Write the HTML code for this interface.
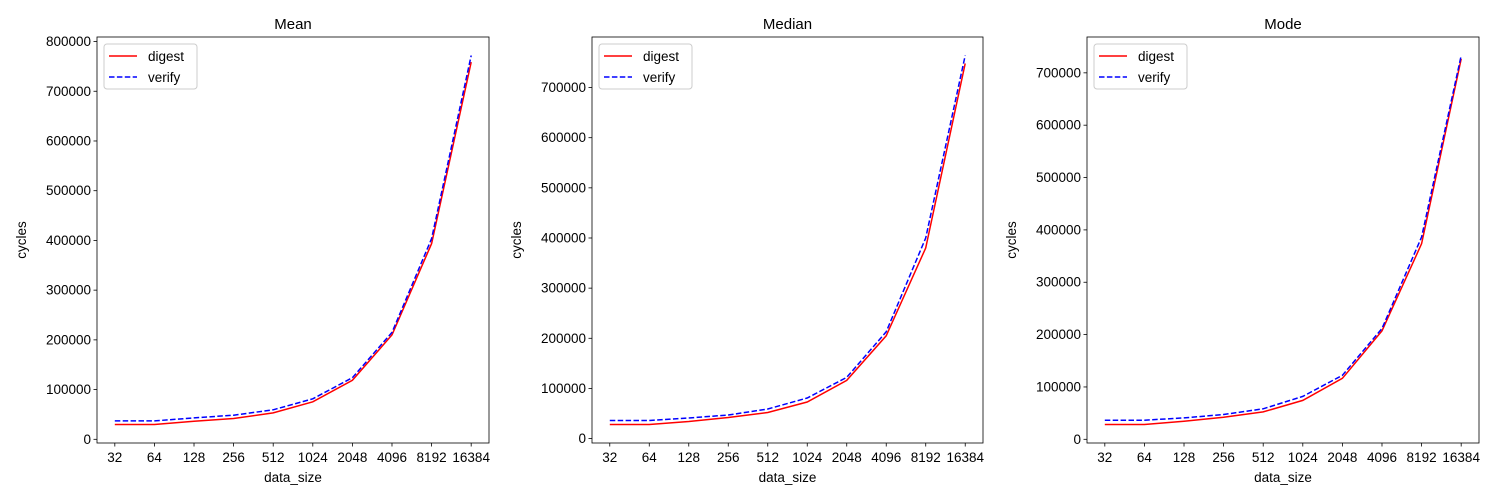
<!DOCTYPE html>
<html><head><meta charset="utf-8"><style>
body{margin:0;background:#fff;}
svg{display:block;font-family:"Liberation Sans","DejaVu Sans",sans-serif;}
</style></head><body>
<svg id="fig" width="1500" height="500"></svg>
<script>
const categories=["32","64","128","256","512","1024","2048","4096","8192","16384"];
const meanDigest=[29700,29700,36400,41800,53200,75400,118700,210000,393600,758700];
const meanVerify=[37000,37000,43100,48500,59300,81500,124000,215000,403700,772000];
const medianDigest=[28000,28000,34000,42000,52000,73000,116000,205000,380000,748000];
const medianVerify=[36000,36000,41000,47000,59000,81000,122000,213000,400000,764000];
const modeDigest=[28200,28200,34500,42200,52400,74300,116500,207300,373700,726900];
const modeVerify=[36500,36500,40900,47400,58200,82000,122300,211700,386400,733200];
const meanTicks=[0,100000,200000,300000,400000,500000,600000,700000,800000];
const medianTicks=[0,100000,200000,300000,400000,500000,600000,700000];
const modeTicks=[0,100000,200000,300000,400000,500000,600000,700000];
const titles=["Mean","Median","Mode"];

const NS="http://www.w3.org/2000/svg";
const svg=document.getElementById('fig');
function el(tag,attrs,parent,text){const e=document.createElementNS(NS,tag);for(const k in attrs)e.setAttribute(k,attrs[k]);if(text!==undefined)e.textContent=text;(parent||svg).appendChild(e);return e;}

const panels=[
 {left:97,right:489,d:meanDigest,v:meanVerify,t:meanTicks,title:titles[0],key:"mean"},
 {left:592,right:983,d:medianDigest,v:medianVerify,t:medianTicks,title:titles[1],key:"median"},
 {left:1087,right:1479,d:modeDigest,v:modeVerify,t:modeTicks,title:titles[2],key:"mode"}];
const plotTop=37,plotBottom=443;

panels.forEach(p=>{
 const g=el('g',{});
 
 
 const all=p.d.concat(p.v);
 const mn=Math.min(...all),mx=Math.max(...all),r=mx-mn;
 const y0=mn-0.05*r,y1=mx+0.05*r;
 const n=categories.length;
 const w=p.right-p.left;
 const x0=-0.45,x1=n-1+0.45;
 const X=i=>p.left+(i-x0)/(x1-x0)*w;
 const Y=v=>plotBottom-(v-y0)/(y1-y0)*(plotBottom-plotTop);
 p.t.forEach(t=>{
  const y=Y(t);
  const tk=el('line',{x1:p.left-3.5,x2:p.left,y1:y,y2:y,stroke:'#000','stroke-width':0.8},g);
  
  
  const lb=el('text',{x:p.left-6,y:y+4.5,'text-anchor':'end','font-size':13.5,fill:'#000'},g,String(t));
  
  
 });
 categories.forEach((c,i)=>{
  const x=X(i);
  const tk=el('line',{x1:x,x2:x,y1:plotBottom,y2:plotBottom+3.5,stroke:'#000','stroke-width':0.8},g);
  
  
  const lb=el('text',{x:x,y:plotBottom+19,'text-anchor':'middle','font-size':13.5,fill:'#000'},g,c);
  
  
 });
 const pts=a=>a.map((v,i)=>X(i).toFixed(1)+','+Y(v).toFixed(1)).join(' ');
 const ld=el('polyline',{points:pts(p.d),fill:'none',stroke:'#ff0000','stroke-width':1.5},g);
 
 
 const lv=el('polyline',{points:pts(p.v),fill:'none',stroke:'#0000ff','stroke-width':1.5,'stroke-dasharray':'5.5,2.4'},g);
 
 
 const fr=el('rect',{x:p.left,y:plotTop,width:w,height:plotBottom-plotTop,fill:'none',stroke:'#000','stroke-width':0.8},g);
 
 
 const tt=el('text',{x:(p.left+p.right)/2,y:29,'text-anchor':'middle','font-size':15,fill:'#000'},g,p.title);
 
 
 const xl=el('text',{x:(p.left+p.right)/2,y:482,'text-anchor':'middle','font-size':13.5,fill:'#000'},g,'data_size');
 
 
 const yx=p.left-71,yy=(plotTop+plotBottom)/2;
 const yl=el('text',{x:yx,y:yy,'text-anchor':'middle','font-size':13.5,fill:'#000',transform:`rotate(-90 ${yx} ${yy})`},g,'cycles');
 
 
 const lg=el('g',{},g);
 
 
 const lx=p.left+7,ly=44;
 el('rect',{x:lx,y:ly,width:93,height:45,rx:3,fill:'#fff','fill-opacity':0.8,stroke:'#ccc','stroke-width':1},lg);
 el('line',{x1:lx+5,x2:lx+33,y1:ly+12,y2:ly+12,stroke:'#ff0000','stroke-width':1.5},lg);
 const e1=el('text',{x:lx+44,y:ly+17,'font-size':13.5,fill:'#000'},lg,'digest');
 
 
 el('line',{x1:lx+5,x2:lx+33,y1:ly+33,y2:ly+33,stroke:'#0000ff','stroke-width':1.5,'stroke-dasharray':'5.5,2.4'},lg);
 const e2=el('text',{x:lx+44,y:ly+38,'font-size':13.5,fill:'#000'},lg,'verify');
 
 
});
</script>
</body></html>
